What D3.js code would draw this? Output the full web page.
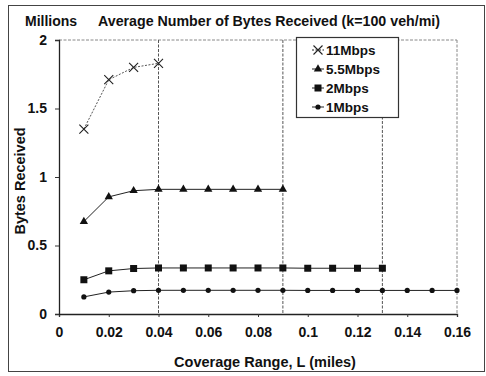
<!DOCTYPE html>
<html>
<head>
<meta charset="utf-8">
<script src="https://cdn.jsdelivr.net/npm/d3@7"></script>
<style>
  html, body { margin: 0; padding: 0; background: #fff; }
  svg { display: block; }
  text { font-family: "Liberation Sans", Arial, sans-serif; font-weight: bold; fill: #111; }
</style>
</head>
<body>
<script>
// Coverage range (miles) sampled for each data rate
const coverage = [0.01, 0.02, 0.03, 0.04, 0.05, 0.06, 0.07, 0.08, 0.09, 0.10, 0.11, 0.12, 0.13, 0.14, 0.15, 0.16];

// Average bytes received (millions) per data rate
const series11 = [1.35, 1.71, 1.80, 1.83];
const series55 = [0.675, 0.855, 0.90, 0.91, 0.91, 0.91, 0.91, 0.91, 0.91];
const series2  = [0.25, 0.315, 0.332, 0.336, 0.336, 0.336, 0.336, 0.336, 0.336, 0.334, 0.334, 0.334, 0.334];
const series1  = [0.125, 0.16, 0.17, 0.173, 0.173, 0.173, 0.173, 0.173, 0.173, 0.172, 0.172, 0.172, 0.172, 0.172, 0.172, 0.172];

const seriesNames = ["11Mbps", "5.5Mbps", "2Mbps", "1Mbps"];
const seriesValues = [series11, series55, series2, series1];
const seriesMarkers = ["cross", "triangle", "square", "circle"];

const xTicks = [0, 0.02, 0.04, 0.06, 0.08, 0.1, 0.12, 0.14, 0.16];
const yTicks = [0, 0.5, 1, 1.5, 2];
const gridX = [0.04, 0.09, 0.13];

const W = 486, H = 376;
const plot = { left: 59, right: 457, top: 40, bottom: 314 };

const svg = d3.select("body").append("svg").attr("width", W).attr("height", H);

// Outer frame
svg.append("rect").attr("x", 8.5).attr("y", 5.5).attr("width", 476).attr("height", 366)
  .attr("fill", "none").attr("stroke", "#444").attr("stroke-width", 1);

const x = d3.scaleLinear().domain([0, 0.16]).range([plot.left, plot.right]);
const y = d3.scaleLinear().domain([0, 2]).range([plot.bottom, plot.top]);

// Plot-area top and right edges (light dashed)
svg.append("line").attr("x1", x(0)).attr("x2", x(0.16)).attr("y1", y(2)).attr("y2", y(2))
  .attr("stroke", "#888").attr("stroke-dasharray", "3,1.5");
svg.append("line").attr("x1", x(0.16)).attr("x2", x(0.16)).attr("y1", y(2)).attr("y2", y(0))
  .attr("stroke", "#888").attr("stroke-dasharray", "3,1.5");

// Vertical reference lines
svg.selectAll("line.gx").data(gridX).enter().append("line").attr("class", "gx")
  .attr("x1", d => x(d)).attr("x2", d => x(d)).attr("y1", y(2)).attr("y2", y(0))
  .attr("stroke", "#555").attr("stroke-dasharray", "3,1.5");

// Axes
const xAxis = d3.axisBottom(x).tickValues(xTicks).tickFormat(d => d3.format("~g")(d)).tickSize(3).tickPadding(10);
const yAxis = d3.axisLeft(y).tickValues(yTicks).tickFormat(d => d3.format("~g")(d)).tickSize(4).tickPadding(8);

const gx = svg.append("g").attr("transform", `translate(0,${plot.bottom})`).call(xAxis);
const gy = svg.append("g").attr("transform", `translate(${plot.left},0)`).call(yAxis);
[gx, gy].forEach(g => {
  g.select(".domain").attr("stroke", "#222").attr("stroke-width", 1.3);
  g.selectAll(".tick line").attr("stroke", "#333");
  g.selectAll("text").style("font-size", "14px").attr("fill", "#111");
});

// Marker drawing
function drawMarker(g, type, cx, cy) {
  if (type === "cross") {
    const s = 4.5;
    g.append("path").attr("d", `M${cx - s},${cy - s}L${cx + s},${cy + s}M${cx - s},${cy + s}L${cx + s},${cy - s}`)
      .attr("stroke", "#222").attr("stroke-width", 1.1).attr("fill", "none");
  } else if (type === "triangle") {
    g.append("path").attr("d", d3.symbol(d3.symbolTriangle, 30)()).attr("transform", `translate(${cx},${cy})`).attr("fill", "#111");
  } else if (type === "square") {
    g.append("rect").attr("x", cx - 3.5).attr("y", cy - 3.5).attr("width", 7).attr("height", 7).attr("fill", "#111");
  } else {
    g.append("circle").attr("cx", cx).attr("cy", cy).attr("r", 2.6).attr("fill", "#111");
  }
}

const line = d3.line().x(d => x(d[0])).y(d => y(d[1]));

seriesValues.forEach((vals, i) => {
  const pts = vals.map((v, j) => [coverage[j], v]);
  const g = svg.append("g");
  g.append("path").attr("d", line(pts)).attr("fill", "none")
    .attr("stroke", i === 0 ? "#555" : "#222").attr("stroke-width", 1)
    .attr("stroke-dasharray", i === 0 ? "2,1.5" : null);
  pts.forEach(p => drawMarker(g, seriesMarkers[i], x(p[0]), y(p[1])));
});

// Legend
const leg = svg.append("g");
leg.append("rect").attr("x", 296.5).attr("y", 37.5).attr("width", 102).attr("height", 80)
  .attr("fill", "#fff").attr("stroke", "#333").attr("stroke-width", 1.2);
seriesNames.forEach((name, i) => {
  const ly = 50 + i * 19;
  leg.append("line").attr("x1", 312).attr("x2", 324).attr("y1", ly).attr("y2", ly)
    .attr("stroke", "#222").attr("stroke-dasharray", i === 0 ? "2,1.5" : null);
  drawMarker(leg, seriesMarkers[i], 318, ly);
  leg.append("text").attr("x", 326).attr("y", ly + 5).style("font-size", "13.5px").text(name);
});

// Titles
svg.append("text").attr("x", 25).attr("y", 26).style("font-size", "14px").text("Millions");
svg.append("text").attr("x", 98).attr("y", 26).style("font-size", "14px")
  .attr("textLength", 342).attr("lengthAdjust", "spacingAndGlyphs")
  .text("Average Number of Bytes Received (k=100 veh/mi)");
svg.append("text").attr("x", 265).attr("y", 367).attr("text-anchor", "middle").style("font-size", "14.5px")
  .text("Coverage Range, L (miles)");
svg.append("text").attr("transform", "translate(25,181) rotate(-90)").attr("text-anchor", "middle")
  .style("font-size", "14.5px").text("Bytes Received");
</script>
</body>
</html>
